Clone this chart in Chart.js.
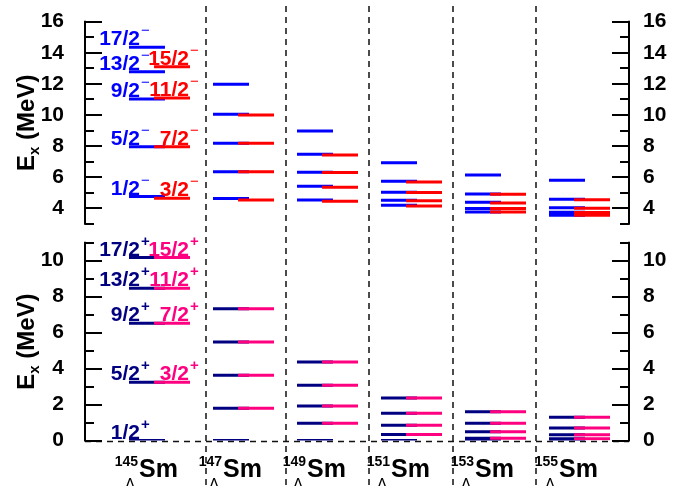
<!DOCTYPE html>
<html>
<head>
<meta charset="utf-8">
<script src="https://cdn.jsdelivr.net/npm/chart.js@4/dist/chart.umd.min.js"></script>
<style>
  html, body { margin: 0; padding: 0; background: #fff; }
  #wrap { position: relative; width: 676px; height: 486px; }
  #wrap canvas { position: absolute; left: 0; top: 0; }
</style>
</head>
<body>
<div id="wrap">
  <canvas id="upper" width="676" height="486"></canvas>
  <canvas id="lower" width="676" height="486"></canvas>
</div>
<script>
// Hypernuclei shown in the columns (mass numbers of Λ-Sm)
const nuclei = ['145', '147', '149', '151', '153', '155'];

// Negative-parity single-particle levels (MeV), one list per nucleus
const negJlow = [            // j = l - 1/2 partners drawn in blue
  [4.75, 7.96, 11.03, 12.78, 14.35],
  [4.62, 6.35, 8.18, 10.04, 11.97],
  [4.53, 5.41, 6.31, 7.47, 8.97],
  [4.19, 4.51, 5.03, 5.74, 6.93],
  [3.76, 3.98, 4.39, 4.92, 6.14],
  [3.55, 3.74, 4.04, 4.58, 5.80]
];
const negJhigh = [           // drawn in red
  [4.64, 7.96, 11.10, 13.10],
  [4.53, 6.35, 8.18, 10.00],
  [4.45, 5.35, 6.30, 7.43],
  [4.15, 4.49, 5.01, 5.69],
  [3.76, 3.98, 4.34, 4.90],
  [3.55, 3.72, 4.00, 4.55]
];

// Positive-parity single-particle levels (MeV)
const posJlow = [            // drawn in navy
  [0, 3.24, 6.52, 8.47, 10.17],
  [0, 1.79, 3.63, 5.48, 7.33],
  [0, 0.96, 1.92, 3.07, 4.37],
  [0, 0.34, 0.85, 1.51, 2.36],
  [0, 0.12, 0.49, 0.96, 1.60],
  [0, 0.10, 0.32, 0.70, 1.29]
];
const posJhigh = [           // drawn in pink
  [3.24, 6.52, 8.47, 10.17],
  [1.79, 3.63, 5.48, 7.33],
  [0.96, 1.92, 3.07, 4.37],
  [0.34, 0.85, 1.51, 2.36],
  [0.12, 0.49, 0.96, 1.60],
  [0.10, 0.32, 0.70, 1.29]
];

// Spin labels written next to the first column
const spinsLow  = ['1/2', '5/2', '9/2', '13/2', '17/2'];
const spinsHigh = ['3/2', '7/2', '11/2', '15/2'];

// Axis ticks
const upperTicks = [4, 6, 8, 10, 12, 14, 16];
const lowerTicks = [0, 2, 4, 6, 8, 10];
const upperRange = [3, 16];
const lowerRange = [0, 11];

// ---- layout (x in column units: column i is centred at i) ----
const X_MIN = -0.738, X_MAX = 5.738;
const HALF = 0.214;          // half length of a level bar
const SHIFT = 0.298;         // offset of the second bar of a doublet
const DIVIDERS = [0.708, 1.655, 2.643, 3.639, 4.634];
const FONT = '"Liberation Sans", Arial, Helvetica, sans-serif';

function segments(levels, shift) {
  const pts = [];
  levels.forEach((list, i) => list.forEach(v => {
    pts.push({x: i + shift - HALF, y: v}, {x: i + shift + HALF, y: v}, {x: i + shift, y: null});
  }));
  return pts;
}

function drawAxisTitle(ctx, cy) {
  ctx.save();
  ctx.translate(34, cy);
  ctx.rotate(-Math.PI / 2);
  ctx.fillStyle = '#000';
  ctx.textBaseline = 'alphabetic';
  ctx.textAlign = 'left';
  const big = 'bold 24px ' + FONT, small = 'bold 15px ' + FONT;
  ctx.font = big;  const wE = ctx.measureText('E').width;
  const wR = ctx.measureText(' (MeV)').width;
  ctx.font = small; const wX = ctx.measureText('x').width;
  let x0 = -(wE + wX + wR) / 2;
  ctx.font = big;   ctx.fillText('E', x0, 0);
  ctx.font = small; ctx.fillText('x', x0 + wE, 5);
  ctx.font = big;   ctx.fillText(' (MeV)', x0 + wE + wX, 0);
  ctx.restore();
}

function drawSpin(ctx, txt, sup, xRight, yBase, color, supBold) {
  ctx.fillStyle = color;
  ctx.textBaseline = 'alphabetic';
  ctx.font = 'bold 21px ' + FONT;
  ctx.textAlign = 'right';
  ctx.fillText(txt, xRight, yBase);
  ctx.font = (supBold ? 'bold ' : '') + '15px ' + FONT;
  ctx.textAlign = 'left';
  ctx.fillText(sup, xRight + 1, yBase - 10);
}

const frame = {
  id: 'frame',
  beforeDatasetsDraw(chart, args, o) {
    const {ctx, chartArea: a} = chart;
    const xs = chart.scales.x, ys = chart.scales.y;
    ctx.save();
    ctx.strokeStyle = '#111';
    ctx.lineWidth = 1.5;
    ctx.setLineDash([6, 5]);
    if (o.zeroLine) {
      const y = Math.round(ys.getPixelForValue(0)) + 0.5;
      ctx.beginPath(); ctx.moveTo(a.left, y); ctx.lineTo(a.right, y); ctx.stroke();
    }
    if (o.dividers) {
      DIVIDERS.forEach(d => {
        const x = Math.round(xs.getPixelForValue(d));
        ctx.beginPath(); ctx.moveTo(x, 6); ctx.lineTo(x, 486); ctx.stroke();
      });
    }
    ctx.restore();
  },
  afterDatasetsDraw(chart, args, o) {
    const {ctx, chartArea: a} = chart;
    const xs = chart.scales.x, ys = chart.scales.y;
    ctx.save();
    // axes with inward ticks on both sides
    ctx.strokeStyle = '#000';
    ctx.lineWidth = 2;
    ctx.setLineDash([]);
    ctx.beginPath();
    ctx.moveTo(a.left, a.top - 1); ctx.lineTo(a.left, a.bottom + 1);
    ctx.moveTo(a.right, a.top - 1); ctx.lineTo(a.right, a.bottom + 1);
    for (let v = o.range[0]; v <= o.range[1]; v++) {
      const y = Math.round(ys.getPixelForValue(v));
      const len = o.ticks.includes(v) ? 17 : 9;
      ctx.moveTo(a.left, y); ctx.lineTo(a.left + len, y);
      ctx.moveTo(a.right, y); ctx.lineTo(a.right - len, y);
    }
    ctx.stroke();

    // spin labels of the first column
    const yb = v => ys.getPixelForValue(v) - 2;
    const lowRight = xs.getPixelForValue(-HALF) + 11;
    const highRight = xs.getPixelForValue(SHIFT + HALF) - 1;
    o.lowLevels.forEach((v, k) => drawSpin(ctx, spinsLow[k], o.sign, lowRight, yb(v), o.lowColor, o.sign === '+'));
    o.highLevels.forEach((v, k) => drawSpin(ctx, spinsHigh[k], o.sign, highRight, yb(v), o.highColor, o.sign === '+'));

    drawAxisTitle(ctx, (a.top + a.bottom) / 2);

    if (o.names) {
      ctx.fillStyle = '#000';
      ctx.textBaseline = 'alphabetic';
      nuclei.forEach((n, i) => {
        const c = xs.getPixelForValue(i + SHIFT / 2);
        ctx.font = 'bold 25px ' + FONT;
        const w = ctx.measureText('Sm').width;
        const left = c - 1 - w / 2;
        ctx.textAlign = 'left';
        ctx.fillText('Sm', left, 477);
        ctx.font = 'bold 14px ' + FONT;
        ctx.textAlign = 'right';
        ctx.fillText(n, left - 1, 466);
        ctx.font = '16px ' + FONT;
        ctx.textAlign = 'center';
        ctx.fillText('Λ', left - 9, 490);
      });
    }
    ctx.restore();
  }
};

function panel(id, cfg) {
  const tickFont = {family: FONT, size: 21, weight: 'bold'};
  const setTicks = s => { s.ticks = cfg.ticks.map(v => ({value: v})); };
  return new Chart(document.getElementById(id), {
    type: 'line',
    data: {
      datasets: [
        {data: segments(cfg.high, SHIFT), borderColor: cfg.highColor, order: 0},
        {data: segments(cfg.low, 0), borderColor: cfg.lowColor, order: 1}
      ].map(d => Object.assign(d, {
        borderWidth: 3, pointRadius: 0, spanGaps: false, fill: false,
        tension: 0, borderCapStyle: 'butt'
      }))
    },
    options: {
      responsive: false,
      animation: false,
      events: [],
      layout: {padding: {top: cfg.top, bottom: 486 - cfg.bottom, left: 0, right: 0}},
      plugins: {
        legend: {display: false},
        tooltip: {enabled: false},
        frame: {
          range: cfg.range, ticks: cfg.ticks, sign: cfg.sign,
          lowLevels: cfg.low[0], highLevels: cfg.high[0],
          lowColor: cfg.lowColor, highColor: cfg.highColor,
          zeroLine: cfg.zeroLine, dividers: cfg.dividers, names: cfg.names
        }
      },
      scales: {
        x: {type: 'linear', min: X_MIN, max: X_MAX, display: false},
        y: {
          type: 'linear', position: 'left', min: cfg.range[0], max: cfg.range[1],
          grid: {display: false, drawTicks: false}, border: {display: false},
          ticks: {font: tickFont, color: '#000', padding: 21, autoSkip: false},
          afterBuildTicks: setTicks,
          afterFit: s => { s.width = 85; s.paddingTop = 0; s.paddingBottom = 0; }
        },
        y2: {
          type: 'linear', position: 'right', min: cfg.range[0], max: cfg.range[1],
          grid: {display: false, drawTicks: false}, border: {display: false},
          ticks: {font: tickFont, color: '#000', padding: 14, autoSkip: false},
          afterBuildTicks: setTicks,
          afterFit: s => { s.width = 47; s.paddingTop = 0; s.paddingBottom = 0; }
        }
      }
    },
    plugins: [frame]
  });
}

panel('upper', {
  low: negJlow, high: negJhigh, lowColor: '#0000FF', highColor: '#FF0000',
  range: upperRange, ticks: upperTicks, sign: '\u2212',
  top: 21.7, bottom: 223.8, zeroLine: false, dividers: false, names: false
});
panel('lower', {
  low: posJlow, high: posJhigh, lowColor: '#000080', highColor: '#FF0080',
  range: lowerRange, ticks: lowerTicks, sign: '+',
  top: 242.7, bottom: 440.5, zeroLine: true, dividers: true, names: true
});
</script>
</body>
</html>
